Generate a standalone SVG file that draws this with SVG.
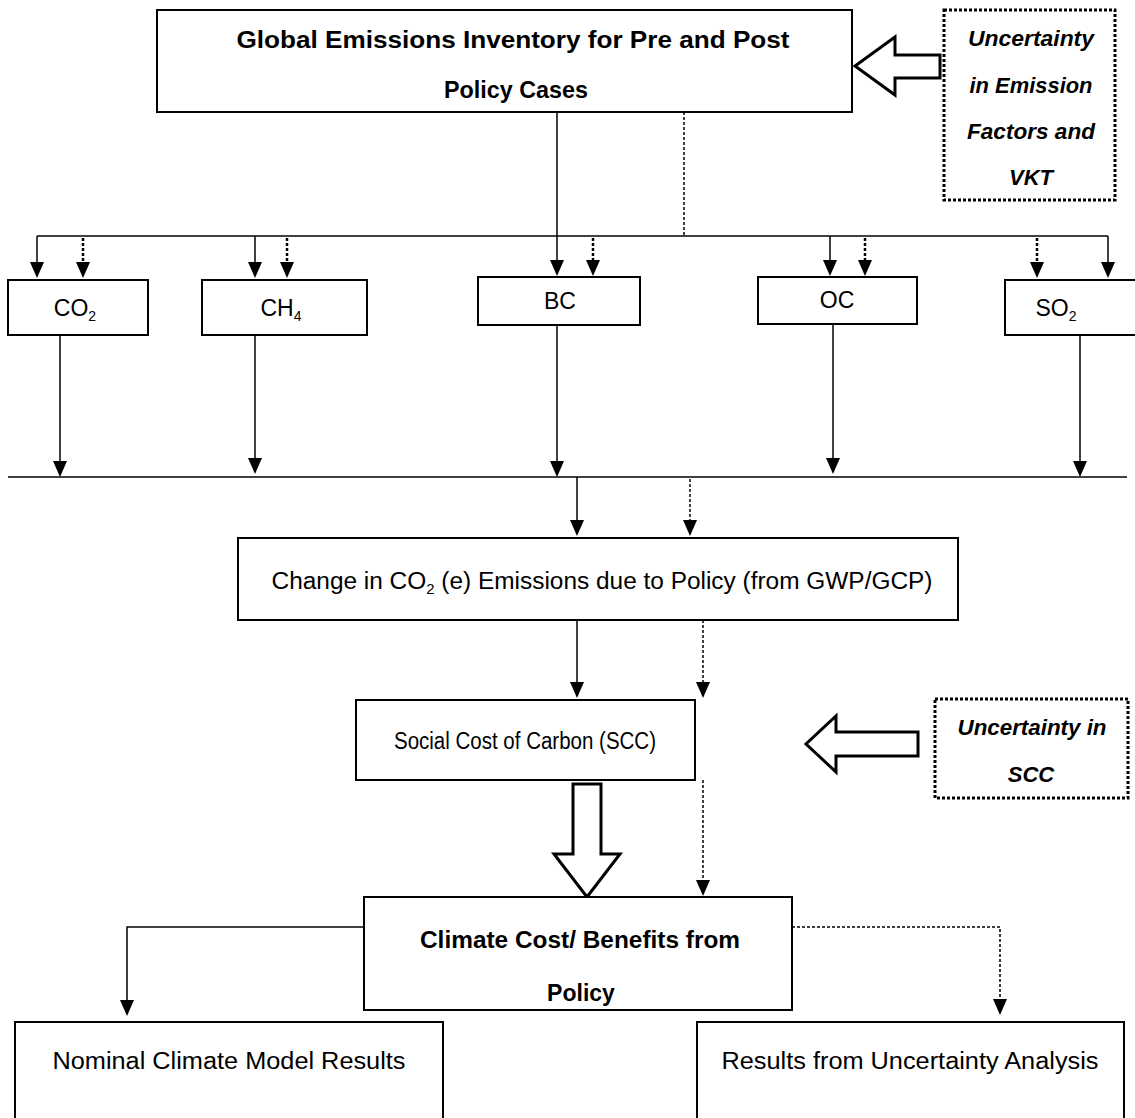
<svg xmlns="http://www.w3.org/2000/svg" width="1135" height="1118" viewBox="0 0 1135 1118">
<style>
.box{fill:#fff;stroke:#000;stroke-width:2}
.dbox{fill:#fff;stroke:#000;stroke-width:3;stroke-dasharray:3 2}
.t{font-family:"Liberation Sans Narrow","Liberation Sans",Arial,sans-serif;font-size:23px;fill:#000;text-anchor:middle}
.b{font-weight:bold}
.i{font-style:italic;font-weight:bold;font-size:22px}
.ln{fill:none;stroke:#000;stroke-width:1.5}
.dt{fill:none;stroke:#000;stroke-width:2.5;stroke-dasharray:3 2}
.dt2{fill:none;stroke:#000;stroke-width:1.5;stroke-dasharray:3 2}
.hollow{fill:#fff;stroke:#000;stroke-width:3;stroke-linejoin:miter}
</style>

<g id="connectors">
<path class="ln" d="M557,112 V236"/>
<path class="dt2" d="M684,112 V236"/>
<path class="ln" d="M37,236 H1108"/>
<path class="ln" d="M37,236 V262"/>
<path d="M30,262 L44,262 L37,278 Z"/>
<path class="dt" d="M83,238 V262"/>
<path d="M76,262 L90,262 L83,278 Z"/>
<path class="ln" d="M255,236 V262"/>
<path d="M248,262 L262,262 L255,278 Z"/>
<path class="dt" d="M287,238 V262"/>
<path d="M280,262 L294,262 L287,278 Z"/>
<path class="ln" d="M557,236 V260"/>
<path d="M550,260 L564,260 L557,276 Z"/>
<path class="dt" d="M593,238 V260"/>
<path d="M586,260 L600,260 L593,276 Z"/>
<path class="ln" d="M830,236 V260"/>
<path d="M823,260 L837,260 L830,276 Z"/>
<path class="dt" d="M865,238 V260"/>
<path d="M858,260 L872,260 L865,276 Z"/>
<path class="dt" d="M1037,238 V262"/>
<path d="M1030,262 L1044,262 L1037,278 Z"/>
<path class="ln" d="M1108,236 V262"/>
<path d="M1101,262 L1115,262 L1108,278 Z"/>
<path class="ln" d="M60,335 V461"/>
<path d="M53,461 L67,461 L60,477 Z"/>
<path class="ln" d="M255,332 V458"/>
<path d="M248,458 L262,458 L255,474 Z"/>
<path class="ln" d="M557,325 V461"/>
<path d="M550,461 L564,461 L557,477 Z"/>
<path class="ln" d="M833,324 V458"/>
<path d="M826,458 L840,458 L833,474 Z"/>
<path class="ln" d="M1080,334 V461"/>
<path d="M1073,461 L1087,461 L1080,477 Z"/>
<path class="ln" d="M8,477 H1127"/>
<path class="ln" d="M577,477 V520"/>
<path d="M570,520 L584,520 L577,536 Z"/>
<path class="dt2" d="M690,479 V520"/>
<path d="M683,520 L697,520 L690,536 Z"/>
<path class="ln" d="M577,620 V682"/>
<path d="M570,682 L584,682 L577,698 Z"/>
<path class="dt2" d="M703,620 V682"/>
<path d="M696,682 L710,682 L703,698 Z"/>
<path class="hollow" d="M573,784 H601 V854 H620 L587,897 L554,854 H573 Z"/>
<path class="dt2" d="M703,780 V880"/>
<path d="M696,880 L710,880 L703,896 Z"/>
<path class="ln" d="M364,927 H127 V1000"/>
<path d="M120,1000 L134,1000 L127,1016 Z"/>
<path class="dt2" d="M792,927 H1000 V999"/>
<path d="M993,999 L1007,999 L1000,1015 Z"/>
<path class="hollow" d="M940,55 H895 V37 L855,66 L895,95 V78 H940 Z"/>
<path class="hollow" d="M918,732 H836 V716 L806,744 L836,772 V756 H918 Z"/>
</g>

<g id="node-top">
<rect class="box" x="157" y="10" width="695" height="102"/>
<text class="t b" x="513" y="48" textLength="553" lengthAdjust="spacingAndGlyphs">Global Emissions Inventory for Pre and Post</text>
<text class="t b" x="516" y="98" textLength="144" lengthAdjust="spacingAndGlyphs">Policy Cases</text>
</g>

<g id="node-unc1">
<rect class="dbox" x="944" y="10" width="171" height="190"/>
<text class="t i" x="1031" y="46" textLength="126" lengthAdjust="spacingAndGlyphs">Uncertainty</text>
<text class="t i" x="1031" y="93" textLength="123" lengthAdjust="spacingAndGlyphs">in Emission</text>
<text class="t i" x="1031" y="139" textLength="128" lengthAdjust="spacingAndGlyphs">Factors and</text>
<text class="t i" x="1031" y="185">VKT</text>
</g>

<g id="node-co2">
<rect class="box" x="8" y="280" width="140" height="55"/>
<text class="t" x="75" y="316">CO<tspan font-size="14" dy="5">2</tspan></text>
</g>
<g id="node-ch4">
<rect class="box" x="202" y="280" width="165" height="55"/>
<text class="t" x="281" y="316">CH<tspan font-size="14" dy="5">4</tspan></text>
</g>
<g id="node-bc">
<rect class="box" x="478" y="277" width="162" height="48"/>
<text class="t" x="560" y="309">BC</text>
</g>
<g id="node-oc">
<rect class="box" x="758" y="277" width="159" height="47"/>
<text class="t" x="837" y="308">OC</text>
</g>
<g id="node-so2">
<rect class="box" x="1005" y="280" width="140" height="55"/>
<text class="t" x="1056" y="316">SO<tspan font-size="14" dy="5">2</tspan></text>
</g>

<g id="node-change">
<rect class="box" x="238" y="538" width="720" height="82"/>
<text class="t" x="602" y="589" textLength="661" lengthAdjust="spacingAndGlyphs">Change in CO<tspan font-size="14" dy="5">2</tspan><tspan dy="-5"> (e) Emissions due to Policy (from GWP/GCP)</tspan></text>
</g>

<g id="node-scc">
<rect class="box" x="356" y="700" width="339" height="80"/>
<text class="t" x="525" y="749" textLength="262" lengthAdjust="spacingAndGlyphs">Social Cost of Carbon (SCC)</text>
</g>

<g id="node-unc2">
<rect class="dbox" x="935" y="699" width="193" height="99"/>
<text class="t i" x="1032" y="735" textLength="149" lengthAdjust="spacingAndGlyphs">Uncertainty in</text>
<text class="t i" x="1031" y="782">SCC</text>
</g>

<g id="node-climate">
<rect class="box" x="364" y="897" width="428" height="113"/>
<text class="t b" x="580" y="948" textLength="320" lengthAdjust="spacingAndGlyphs">Climate Cost/ Benefits from</text>
<text class="t b" x="581" y="1001">Policy</text>
</g>

<g id="node-nominal">
<rect class="box" x="15" y="1022" width="428" height="110"/>
<text class="t" x="229" y="1069" textLength="353" lengthAdjust="spacingAndGlyphs">Nominal Climate Model Results</text>
</g>

<g id="node-results">
<rect class="box" x="697" y="1022" width="427" height="110"/>
<text class="t" x="910" y="1069" textLength="377" lengthAdjust="spacingAndGlyphs">Results from Uncertainty Analysis</text>
</g>
</svg>
